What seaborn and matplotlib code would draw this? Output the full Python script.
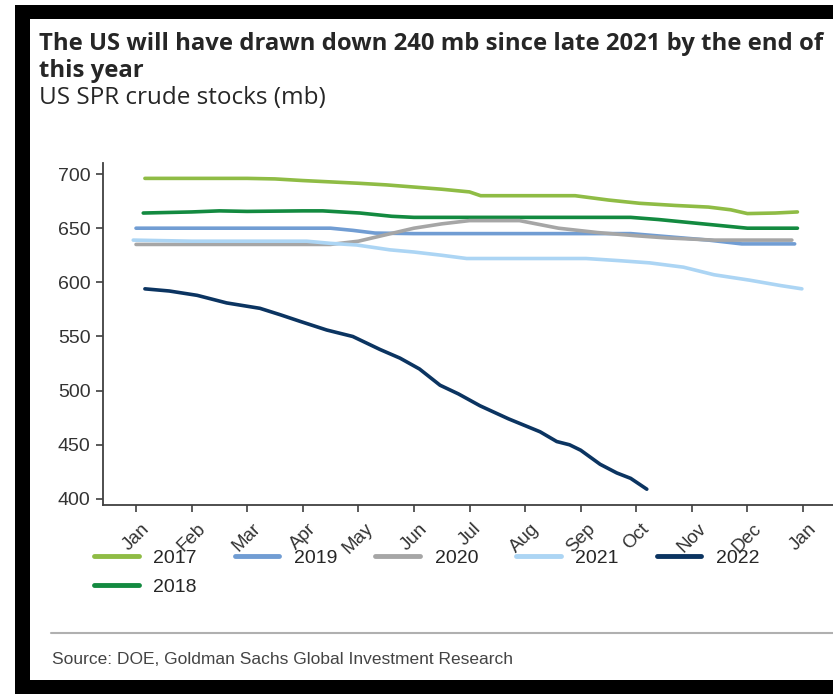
import matplotlib
matplotlib.use('Agg')
import matplotlib.pyplot as plt
import matplotlib.patches as mpatches
import numpy as np
import pandas as pd
import seaborn as sns

# Month positions (0 = Jan, 12 = next Jan) and SPR stocks (mb)
x_2017 = [0.16, 1, 2, 2.5, 3, 4, 4.5, 5, 5.5, 6, 6.2, 7, 7.9, 8.5, 9.06, 9.7, 10.3, 10.7, 11, 11.5, 11.9]
v_2017 = [696, 696, 696, 695.5, 694, 691.5, 690, 688, 686, 683.5, 680, 680, 680, 676, 673, 671, 669.5, 667, 663.5, 664, 665]

x_2018 = [0.13, 1, 1.5, 2, 3, 3.36, 4.03, 4.6, 5, 6, 7, 8, 8.9, 9.4, 9.8, 10.4, 11, 11.9]
v_2018 = [664, 665, 666, 665.5, 666, 666, 664, 661, 660, 660, 660, 660, 660, 658, 656, 653, 650, 650]

x_2019 = [0, 3.5, 3.9, 4.3, 5, 8.9, 9.6, 10.3, 10.9, 11.85]
v_2019 = [650, 650, 648, 645.5, 645, 645, 642, 639, 635.5, 635.5]

x_2020 = [0, 3.5, 4, 4.5, 5, 5.5, 6, 6.9, 7.3, 7.6, 8.3, 9, 9.55, 10.4, 11.8]
v_2020 = [635, 635, 638, 644, 650, 654, 657, 657, 653, 650, 646, 643, 641, 639, 639]

x_2021 = [-0.05, 1, 2, 3.07, 3.5, 3.97, 4.57, 5, 5.5, 5.95, 7, 8.1, 8.7, 9.24, 9.85, 10.4, 11.04, 11.6, 11.98]
v_2021 = [639, 638, 638, 638, 636, 634.5, 630, 628, 625, 622, 622, 622, 620, 618, 614, 607, 602, 597, 594]

x_2022 = [0.16, 0.6, 1.1, 1.63, 2.23, 2.6, 2.95, 3.43, 3.9, 4.39, 4.75, 5.1, 5.47, 5.8, 6.19,
          6.7, 7.27, 7.57, 7.8, 8.0, 8.35, 8.65, 8.9, 9.19]
v_2022 = [594, 592, 588, 581, 576, 570, 564, 556, 550, 538, 530, 520, 505, 497, 486,
          474, 462, 453, 450, 445, 432, 424, 419, 409]

years = ['2017', '2018', '2019', '2020', '2021', '2022']
colors = ['#8fbc45', '#138a40', '#719dd3', '#a6a6a6', '#acd5f4', '#0b3461']
month_labels = ['Jan', 'Feb', 'Mar', 'Apr', 'May', 'Jun', 'Jul', 'Aug', 'Sep', 'Oct', 'Nov', 'Dec', 'Jan']
y_ticks = [400, 450, 500, 550, 600, 650, 700]

series = {
    '2017': (x_2017, v_2017),
    '2018': (x_2018, v_2018),
    '2019': (x_2019, v_2019),
    '2020': (x_2020, v_2020),
    '2021': (x_2021, v_2021),
    '2022': (x_2022, v_2022),
}
frames = []
for yr in years:
    xs, vs = series[yr]
    frames.append(pd.DataFrame({'month': xs, 'stocks': vs, 'year': yr}))
df = pd.concat(frames, ignore_index=True)

sns.set_style('white')
plt.rcParams['font.family'] = ['Liberation Sans', 'DejaVu Sans']

W, H = 833, 694
fig = plt.figure(figsize=(W / 100, H / 100), dpi=100)

# black frame around the card
fig.patches.append(mpatches.Rectangle((15 / W, 0), 1 - 15 / W, 1 - 5 / H, transform=fig.transFigure,
                                      facecolor='black', edgecolor='none', zorder=-2))
fig.patches.append(mpatches.Rectangle((30 / W, 14 / H), 1 - 30 / W, 1 - 33 / H, transform=fig.transFigure,
                                      facecolor='white', edgecolor='none', zorder=-1))

ax = fig.add_axes([103 / W, (H - 505) / H, (W - 103) / W, (505 - 163) / H])
ax.set_facecolor('none')

sns.lineplot(data=df, x='month', y='stocks', hue='year', hue_order=years,
             palette=dict(zip(years, colors)), estimator=None, linewidth=2.6, ax=ax)

ax.set_xlim(-0.594, 12.54)
ax.set_ylim(394.4, 710.2)
ax.set_xticks(range(13))
ax.set_xticklabels(month_labels, rotation=45, ha='center', va='top', fontsize=13.5, color='#333333')
ax.set_yticks(y_ticks)
ax.set_yticklabels([str(t) for t in y_ticks], fontsize=14, color='#333333')
ax.tick_params(axis='both', direction='out', length=5, width=1.2, color='#404040', left=True, bottom=True)
ax.tick_params(axis='x', pad=6)
ax.tick_params(axis='y', pad=4)
ax.set_xlabel('')
ax.set_ylabel('')
for side in ['top', 'right']:
    ax.spines[side].set_visible(False)
for side in ['left', 'bottom']:
    ax.spines[side].set_color('#404040')
    ax.spines[side].set_linewidth(1.3)

handles, labels = ax.get_legend_handles_labels()
ax.get_legend().remove()
for h in handles:
    h.set_linewidth(3.5)
fig.legend(handles, labels, ncol=5, loc='upper left', bbox_to_anchor=(94 / W, 1 - 549 / H),
           frameon=False, fontsize=14, handlelength=2.3, handletextpad=0.75,
           columnspacing=1.95, labelspacing=0.6, borderaxespad=0, borderpad=0)

# title block
fig.text(39 / W, 1 - 50 / H, 'The US will have drawn down 240 mb since late 2021 by the end of',
         fontsize=17.2, fontweight='bold', family=['Open Sans', 'DejaVu Sans'], va='baseline')
fig.text(39 / W, 1 - 77 / H, 'this year',
         fontsize=17.2, fontweight='bold', family=['Open Sans', 'DejaVu Sans'], va='baseline')
fig.text(39 / W, 1 - 104 / H, 'US SPR crude stocks (mb)',
         fontsize=17.5, family=['Open Sans', 'DejaVu Sans'], va='baseline')

# source line
fig.add_artist(plt.Line2D([51 / W, 1], [1 - 633 / H, 1 - 633 / H], transform=fig.transFigure,
                          color='#b0b0b0', linewidth=1.5))
fig.text(52 / W, 1 - 664 / H, 'Source: DOE, Goldman Sachs Global Investment Research',
         fontsize=12.5, family=['Liberation Sans Narrow', 'Liberation Sans', 'DejaVu Sans'],
         color='#444444', va='baseline')

fig.savefig('out.png', dpi=100)
